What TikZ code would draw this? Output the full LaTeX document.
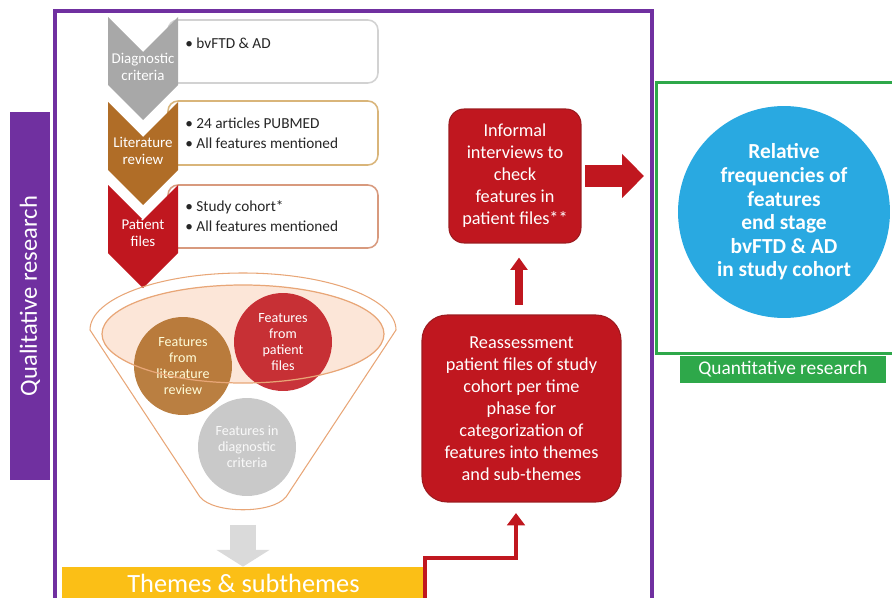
\documentclass[tikz,border=0pt]{standalone}
\usepackage{fontspec}
\setmainfont{Carlito}
\usetikzlibrary{arrows.meta,positioning,calc}
\definecolor{QualPurple}{HTML}{7030A0}
\definecolor{QuantGreen}{HTML}{2EA84A}
\definecolor{FreqBlue}{HTML}{29A9E1}
\definecolor{StepRed}{HTML}{C0171F}
\definecolor{StepRedLine}{HTML}{9C1B1F}
\definecolor{StepBrown}{HTML}{B06D27}
\definecolor{StepGray}{HTML}{A8A8A8}
\definecolor{CircleGray}{HTML}{C2C2C2}
\definecolor{ArrowGray}{HTML}{DADADA}
\definecolor{ThemeYellow}{HTML}{FBBF16}
\definecolor{FunnelLine}{HTML}{E8A677}
\definecolor{FunnelFill}{HTML}{FCE6D8}
\definecolor{BoxGrayLine}{HTML}{D2D2D2}
\definecolor{BoxBrownLine}{HTML}{D9B57A}
\definecolor{BoxRedLine}{HTML}{D89A7E}
\definecolor{ListText}{HTML}{262626}
\tikzset{
    % boxes next to the chevrons
    list box/.style={
        rectangle,
        rounded corners=0.2cm,
        draw=#1,
        line width=0.9pt,
        fill=white,
        minimum width=4.2cm,
        minimum height=1.26cm
    },
    list text/.style={
        anchor=west,
        inner sep=0pt,
        align=left,
        text=ListText,
        font=\fontsize{8.7}{11.3}\selectfont
    },
    chevron text/.style={
        text=white,
        align=center,
        font=\fontsize{8.5}{9.5}\selectfont
    },
    feature circle/.style={
        circle,
        fill=#1,
        fill opacity=0.88,
        text opacity=1,
        text=white,
        minimum size=1.96cm,
        inner sep=0pt,
        align=center,
        font=\fontsize{8}{9}\selectfont
    },
    red box/.style={
        rectangle,
        draw=StepRedLine,
        line width=0.6pt,
        fill=StepRed,
        text=white,
        align=center,
        font=\fontsize{10.4}{12.5}\selectfont
    },
    red arrow/.style={
        -{Triangle[length=7pt,width=9.5pt]},
        line width=4pt,
        color=StepRed
    },
    bent arrow/.style={
        -{Triangle[length=7pt,width=10pt]},
        line width=2.8pt,
        color=StepRed
    },
    block arrow/.style={
        -{Triangle[length=12.5pt,width=24.4pt]},
        line width=13pt,
        color=StepRed
    },
    gray arrow/.style={
        -{Triangle[length=9.6pt,width=30pt]},
        line width=15.3pt,
        color=ArrowGray
    }
}

\begin{document}
\begin{tikzpicture}[x=0.02cm, y=-0.02cm]
    \useasboundingbox (0,0) rectangle (892,598);

    % frames and their labels
    \draw[QualPurple, line width=2.3pt] (55,11) rectangle (652,630);
    \node[rectangle, fill=QualPurple, text=white, rotate=90, minimum width=7.36cm, minimum height=0.8cm,
          font=\fontsize{14}{16}\selectfont] (quallabel) at (30,296) {Qualitative research};
    \node[rectangle, draw=QuantGreen, line width=1.7pt, minimum width=4.98cm, minimum height=5.42cm] (quantframe) at (780.5,218) {};
    \node[rectangle, fill=QuantGreen, text=white, minimum width=4.12cm, minimum height=0.5cm,
          font=\fontsize{11}{13}\selectfont] (quantlabel) at (783,369.5) {Quantitative research};

    % chevron list
    \node[list box=BoxGrayLine] (box1) at (273,51.5) {};
    \node[list box=BoxBrownLine, minimum height=1.28cm] (box2) at (273,133) {};
    \node[list box=BoxRedLine] (box3) at (273,216.5) {};
    \fill[StepGray] (108,17) -- (143,52) -- (178,17) -- (178,85) -- (143,120) -- (108,85) -- cycle;
    \fill[StepBrown] (108,102) -- (143,137) -- (178,102) -- (178,170) -- (143,205) -- (108,170) -- cycle;
    \fill[StepRed] (108,185) -- (143,220) -- (178,185) -- (178,253) -- (143,288) -- (108,253) -- cycle;
    \node[chevron text] (diaglabel) at (143,67) {Diagnostic\\criteria};
    \node[chevron text] (litlabel) at (143,151) {Literature\\review};
    \node[chevron text] (patlabel) at (143,233) {Patient\\files};
    \node[list text] (diagtext) at (185,43) {\textbullet\ bvFTD \& AD};
    \node[list text] (littext) at (185,133) {\textbullet\ 24 articles PUBMED\\\textbullet\ All features mentioned};
    \node[list text] (pattext) at (185,216.5) {\textbullet\ Study cohort*\\\textbullet\ All features mentioned};

    % funnel
    \draw[FunnelLine, line width=0.6pt] (90,330) arc[start angle=180, end angle=360, x radius=153, y radius=57]
        -- (286,497) .. controls (272,514) and (214,514) .. (200,497) -- cycle;
    \fill[FunnelFill] (243,334) ellipse[x radius=141, y radius=49];
    \node[feature circle=StepBrown, text=white!85!yellow] (litcircle) at (183,366) {Features\\from\\literature\\review};
    \node[feature circle=StepRed] (patcircle) at (283,342) {Features\\from\\patient\\files};
    \node[feature circle=CircleGray, text=white!95!gray] (diagcircle) at (247,447) {Features in\\diagnostic\\criteria};
    \draw[FunnelLine, line width=0.7pt] (243,334) ellipse[x radius=141, y radius=49];
    \coordinate (funnelbottom) at (243,508);

    % themes
    \node[rectangle, fill=ThemeYellow, text=white, minimum width=7.26cm, minimum height=0.64cm,
          font=\fontsize{15}{17}\selectfont] (themes) at (243.5,583) {Themes \& subthemes};
    \draw[gray arrow, shorten <=9.6pt] (funnelbottom) -- (funnelbottom |- themes.north);

    % reassessment and interviews
    \node[red box, rounded corners=0.5cm, minimum width=3.98cm, minimum height=3.74cm] (reass) at (521.5,408.5)
        {Reassessment\\patient files of study\\cohort per time\\phase for\\categorization of\\features into themes\\and sub-themes};
    \node[red box, rounded corners=0.3cm, minimum width=2.64cm, minimum height=2.68cm] (informal) at (515,176)
        {Informal\\interviews to\\check\\features in\\patient files**};
    \node[circle, fill=FreqBlue, text=white, minimum size=4.24cm, inner sep=0pt, align=center,
          font=\bfseries\fontsize{12.2}{13.4}\selectfont] (freq) at (784,212)
        {Relative\\frequencies of\\features\\end stage\\bvFTD \& AD\\in study cohort};

    % connectors
    \coordinate (bentstart) at (425,630);
    \coordinate (bentknee) at (516,558);
    \draw[bent arrow, shorten >=6pt] (bentstart) |- (bentknee) -- (bentknee |- reass.south);
    \draw[red arrow, shorten <=5.5pt, shorten >=8pt] ([xshift=-0.05cm]reass.north) -- ([xshift=-0.05cm]reass.north |- informal.south);
    \draw[block arrow, shorten <=2pt, shorten >=6pt] (informal.east) -- (informal.east -| quantframe.west);
\end{tikzpicture}
\end{document}
